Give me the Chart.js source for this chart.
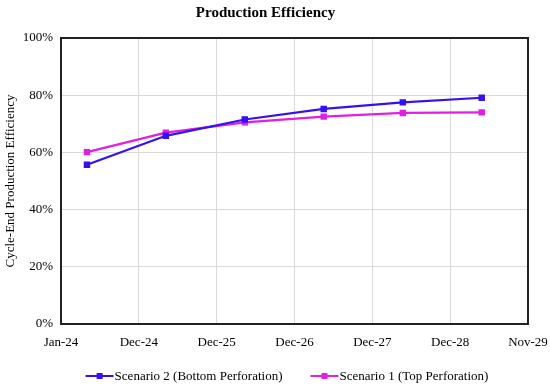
<!DOCTYPE html>
<html>
<head>
<meta charset="utf-8">
<script src="https://cdn.jsdelivr.net/npm/chart.js@4.4.1/dist/chart.umd.min.js"></script>
<style>
  html, body { margin: 0; padding: 0; background: #fff; }
</style>
</head>
<body>
<canvas id="myChart" width="550" height="387"></canvas>
<script>
// cycle ends, counted in days after 1 Jan 2024
var cycleDays = [120, 485, 850, 1215, 1581, 1946];
var scenario2 = [55.7, 65.8, 71.5, 75.2, 77.5, 79.1];
var scenario1 = [60.1, 66.9, 70.5, 72.5, 73.8, 74.0];
var xTickLabels = ['Jan-24', 'Dec-24', 'Dec-25', 'Dec-26', 'Dec-27', 'Dec-28', 'Nov-29'];

var serif = "'Liberation Serif', 'Times New Roman', serif";
var blue = '#3510f2';
var magenta = '#e01fe0';

function toPoints(vals) {
  var pts = [];
  for (var i = 0; i < vals.length; i++) {
    pts.push({ x: cycleDays[i], y: vals[i] });
  }
  return pts;
}

// black frame round the plot, plus an Excel style legend (line, square marker, label)
var framePlugin = {
  id: 'frame',
  afterDraw: function (chart) {
    var ctx = chart.ctx;
    var a = chart.chartArea;
    ctx.save();
    ctx.strokeStyle = '#222';
    ctx.lineWidth = 2;
    ctx.strokeRect(a.left, a.top, a.right - a.left, a.bottom - a.top);

    ctx.font = '13px ' + serif;
    ctx.textBaseline = 'middle';
    var sets = chart.data.datasets;
    var lineLen = 28, gap = 28, y = 376;
    var total = 0;
    for (var i = 0; i < sets.length; i++) {
      total += lineLen + 1 + ctx.measureText(sets[i].label).width;
      if (i > 0) total += gap;
    }
    var x = 287 - total / 2;
    for (var j = 0; j < sets.length; j++) {
      var c = sets[j].borderColor;
      ctx.strokeStyle = c;
      ctx.lineWidth = 2;
      ctx.beginPath();
      ctx.moveTo(x, y);
      ctx.lineTo(x + lineLen, y);
      ctx.stroke();
      ctx.fillStyle = c;
      ctx.fillRect(x + lineLen / 2 - 3, y - 3, 6, 6);
      x += lineLen + 1;
      ctx.fillStyle = '#000';
      ctx.fillText(sets[j].label, x, y + 1);
      x += ctx.measureText(sets[j].label).width + gap;
    }
    ctx.restore();
  }
};

const data = {
  datasets: [{
    label: 'Scenario 2 (Bottom Perforation)',
    data: toPoints(scenario2),
    borderColor: blue,
    backgroundColor: blue,
    borderWidth: 2.2,
    pointStyle: 'rect',
    pointRadius: 3,
    tension: 0
  }, {
    label: 'Scenario 1 (Top Perforation)',
    data: toPoints(scenario1),
    borderColor: magenta,
    backgroundColor: magenta,
    borderWidth: 2.2,
    pointStyle: 'rect',
    pointRadius: 3,
    tension: 0
  }]
};

const config = {
  type: 'line',
  data: data,
  options: {
    responsive: false,
    animation: false,
    layout: { padding: { left: 3, right: 22, top: 0, bottom: 24 } },
    plugins: {
      title: {
        display: true,
        text: 'Production Efficiency',
        color: '#000',
        font: { family: serif, size: 15, weight: 'bold' },
        padding: { top: 4, bottom: 16 }
      },
      legend: { display: false },
      tooltip: { enabled: false }
    },
    scales: {
      x: {
        type: 'linear',
        min: 0,
        max: 2160,
        afterBuildTicks: function (scale) {
          var t = [];
          for (var i = 0; i < xTickLabels.length; i++) t.push({ value: i * 360 });
          scale.ticks = t;
        },
        afterFit: function (scale) {
          scale.height = 39;
          scale.paddingRight = 0;
        },
        grid: { color: '#d9d9d9', lineWidth: 1, drawTicks: false },
        border: { display: false },
        ticks: {
          color: '#000',
          font: { family: serif, size: 13 },
          padding: 11,
          maxRotation: 0,
          autoSkip: false,
          callback: function (v, i) { return xTickLabels[i]; }
        }
      },
      y: {
        min: 0,
        max: 100,
        afterFit: function (scale) { scale.width = 58; },
        grid: { color: '#d9d9d9', lineWidth: 1, drawTicks: false },
        border: { display: false },
        title: {
          display: true,
          text: 'Cycle-End Production Efficiency',
          color: '#000',
          font: { family: serif, size: 13 },
          padding: 0
        },
        ticks: {
          stepSize: 20,
          color: '#000',
          font: { family: serif, size: 13 },
          padding: 8,
          callback: function (v) { return v + '%'; }
        }
      }
    }
  },
  plugins: [framePlugin]
};

const myChart = new Chart(document.getElementById('myChart'), config);
</script>
</body>
</html>
